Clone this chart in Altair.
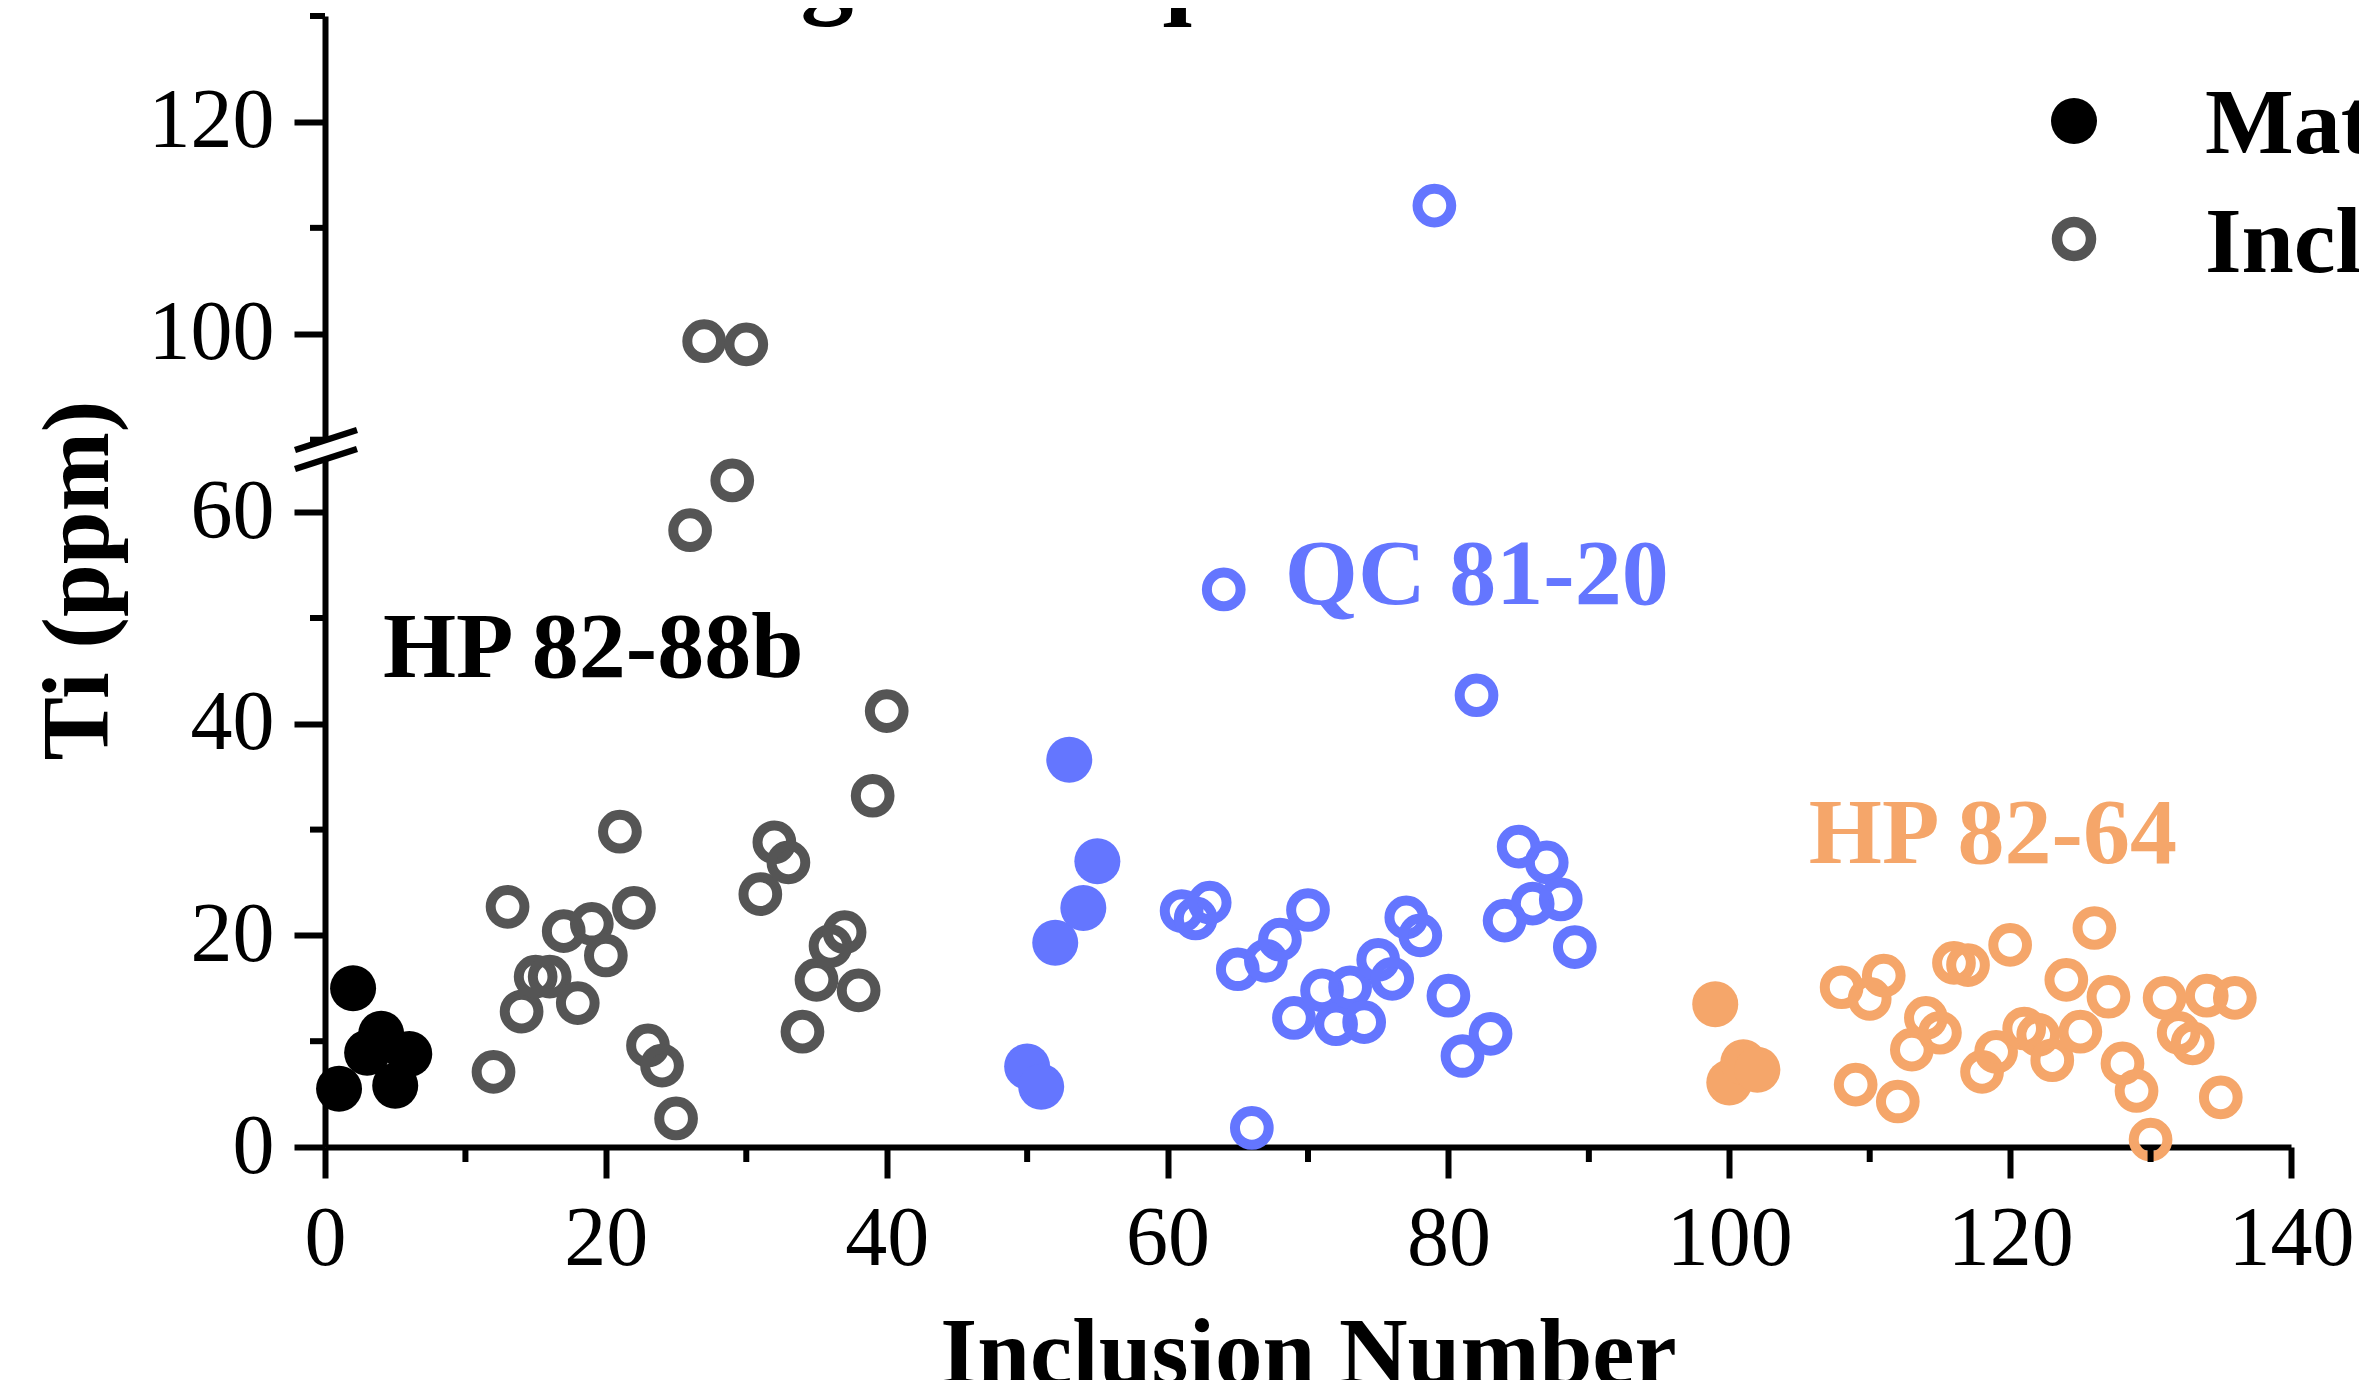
import altair as alt
import pandas as pd

# ---------------- data ----------------
hp88_matrix_n = [1, 2, 3, 4, 5, 6]
hp88_matrix_ti = [5.5, 15.0, 8.9, 10.7, 5.8, 8.8]
hp88_incl_n = [12, 13, 14, 15, 16, 17, 18, 19, 20, 21, 22, 23, 24, 25, 26, 27,
               29, 30, 31, 32, 33, 34, 35, 36, 37, 38, 39, 40]
hp88_incl_ti = [7.1, 22.7, 12.8, 16.1, 16.1, 20.4, 13.6, 21.1, 18.1, 29.8, 22.6, 9.6,
                7.7, 2.7, 58.3, 99.3, 63.0, 99.0, 23.9, 28.8, 26.9, 10.9, 15.8, 19.0,
                20.3, 14.8, 33.2, 41.2]

qc_matrix_n = [50, 51, 52, 53, 54, 55]
qc_matrix_ti = [7.6, 5.7, 19.3, 36.6, 22.6, 27.0]
qc_incl_n = list(range(61, 90))
qc_incl_ti = [22.3, 21.6, 23.1, 52.7, 16.8, 1.8, 17.6, 19.6, 12.2, 22.4, 14.8, 11.6,
              15.1, 11.8, 17.7, 15.9, 21.7, 20.0, 112.1, 14.3, 8.6, 42.7, 10.7, 21.4,
              28.4, 23.0, 26.9, 23.4, 18.9]

hp64_matrix_n = [99, 100, 101, 102]
hp64_matrix_ti = [13.5, 6.1, 8.0, 7.3]
hp64_incl_n = list(range(108, 137))
hp64_incl_ti = [15.1, 5.9, 14.0, 16.2, 4.3, 9.2, 12.2, 10.8, 17.4, 17.2, 7.1, 9.0,
                19.1, 11.2, 10.6, 8.2, 15.8, 10.9, 20.7, 14.2, 7.9, 5.3, 0.7, 14.1,
                10.8, 9.8, 14.3, 4.7, 14.1]

sample_names = ["HP 82-88b", "QC 81-20", "HP 82-64"]
sample_colors = ["#000000", "#6476FF", "#F5A66A"]
inclusion_colors = ["#555555", "#6476FF", "#F5A66A"]

x_major = [0, 20, 40, 60, 80, 100, 120, 140]
x_minor = [10, 30, 50, 70, 90, 110, 130]
y_low_major = [0, 20, 40, 60]
y_low_minor = [10, 30, 50]
y_up_major = [100, 120]
y_up_minor = [90, 110, 130]

ann_x = [4.13, 68.35, 105.66]
ann_y = [44.4, 51.3, 26.85]

# ---------------- table ----------------
rows = []
groups = [
    (sample_names[0], hp88_matrix_n, hp88_matrix_ti, hp88_incl_n, hp88_incl_ti),
    (sample_names[1], qc_matrix_n, qc_matrix_ti, qc_incl_n, qc_incl_ti),
    (sample_names[2], hp64_matrix_n, hp64_matrix_ti, hp64_incl_n, hp64_incl_ti),
]
for name, mn, mt, inn, it in groups:
    for n, t in zip(mn, mt):
        rows.append({"n": n, "ti": t, "sample": name, "kind": "matrix",
                     "series": name + " matrix"})
    for n, t in zip(inn, it):
        rows.append({"n": n, "ti": t, "sample": name, "kind": "inclusion",
                     "series": name + " inclusion"})
df = pd.DataFrame(rows)

series_dom, series_rng = [], []
for i, name in enumerate(sample_names):
    series_dom += [name + " matrix", name + " inclusion"]
    series_rng += [sample_colors[i], inclusion_colors[i]]

# ---------------- layout ----------------
FONT = "Liberation Serif"
W, H = 1966, 1131
LOW_TOP = 443.3
UP_BOTTOM = 423.7

xs = alt.Scale(domain=[0, 140], nice=False, zero=False)
ys_low = alt.Scale(domain=[0, 65], range=[H, LOW_TOP], nice=False, zero=False)
ys_up = alt.Scale(domain=[90, 130], range=[UP_BOTTOM, 0], nice=False, zero=False)
col = alt.Color("series:N", scale=alt.Scale(domain=series_dom, range=series_rng), legend=None)

axis_common = dict(domainColor="black", domainWidth=6, tickColor="black", tickWidth=6,
                   tickSize=31, labelFont=FONT, labelFontSize=84, labelColor="black",
                   labelPadding=20, labelFlush=False, labelOverlap=False, grid=False)

x_axis = alt.Axis(values=x_major, orient="bottom", title="Inclusion Number", titleFont=FONT,
                  titleFontSize=95, titleFontWeight="bold", titleColor="black",
                  titleBaseline="alphabetic", titleY=236, **axis_common)
y_low_axis = alt.Axis(values=y_low_major, orient="left", title="Ti (ppm)", titleFont=FONT,
                      titleFontSize=95, titleFontWeight="bold", titleColor="black",
                      titleAngle=270, titleAlign="center", titleBaseline="alphabetic",
                      titleX=-218, titleY=564, **axis_common)
y_up_axis = alt.Axis(values=y_up_major, orient="left", title="", **axis_common)

X = lambda f: alt.X(f, scale=xs, axis=x_axis)
YL = lambda f: alt.Y(f, scale=ys_low, axis=y_low_axis)
YU = lambda f: alt.Y(f, scale=ys_up, axis=y_up_axis)

base = alt.Chart(df)

low_matrix = base.transform_filter("datum.kind == 'matrix' && datum.ti <= 65").mark_point(
    filled=True, size=2116, opacity=1, strokeWidth=0).encode(
    x=X("n:Q"), y=YL("ti:Q"), color=col)

low_incl = base.transform_filter("datum.kind == 'inclusion' && datum.ti <= 65").mark_point(
    filled=False, size=1136, opacity=1, strokeWidth=10).encode(
    x=X("n:Q"), y=YL("ti:Q"), color=col)

x_minor_ticks = alt.Chart(pd.DataFrame({"n": x_minor})).mark_rule(
    color="black", strokeWidth=6).encode(
    x=X("n:Q"), y=alt.value(H), y2=alt.value(H + 15))

y_low_minor_ticks = alt.Chart(pd.DataFrame({"ti": y_low_minor})).mark_rule(
    color="black", strokeWidth=6).encode(
    y=YL("ti:Q"), x=alt.value(0), x2=alt.value(-15))

# broken-axis marks
one = pd.DataFrame({"a": [0]})
slash1 = alt.Chart(one).mark_rule(color="black", strokeWidth=6.5).encode(
    x=alt.value(-30), x2=alt.value(32), y=alt.value(434), y2=alt.value(414))
slash2 = alt.Chart(one).mark_rule(color="black", strokeWidth=6.5).encode(
    x=alt.value(-30), x2=alt.value(32), y=alt.value(453), y2=alt.value(433))

ann_layers = []
for i, name in enumerate(sample_names):
    ann_layers.append(
        alt.Chart(pd.DataFrame({"n": [ann_x[i]], "ti": [ann_y[i]], "label": [name]}))
        .mark_text(font=FONT, fontSize=94, fontWeight="bold", align="left",
                   baseline="alphabetic", color=sample_colors[i])
        .encode(x=X("n:Q"), y=YL("ti:Q"), text="label:N"))

title = alt.Chart(one).mark_text(
    text="Magmatic quartz Ti content", font=FONT, fontSize=106, fontWeight="bold",
    align="center", baseline="alphabetic", color="black").encode(
    x=alt.value(958), y=alt.value(-12))

leg_fill = alt.Chart(one).mark_point(filled=True, size=2116, opacity=1, strokeWidth=0,
                                      color="#000000").encode(
    x=alt.value(1749), y=alt.value(105))
leg_open = alt.Chart(one).mark_point(filled=False, size=1156, opacity=1, strokeWidth=10.5,
                                      color="#555555").encode(
    x=alt.value(1749), y=alt.value(223))
leg_t1 = alt.Chart(one).mark_text(text="Matrix", font=FONT, fontSize=94, fontWeight="bold",
                                   align="left", baseline="alphabetic", color="black").encode(
    x=alt.value(1880), y=alt.value(137))
leg_t2 = alt.Chart(one).mark_text(text="Inclusion", font=FONT, fontSize=94, fontWeight="bold",
                                   align="left", baseline="alphabetic", color="black").encode(
    x=alt.value(1880), y=alt.value(256))

lower_group = alt.layer(low_matrix, low_incl, x_minor_ticks, y_low_minor_ticks,
                        slash1, slash2, *ann_layers, title,
                        leg_fill, leg_open, leg_t1, leg_t2)

up_incl = base.transform_filter("datum.ti > 65").mark_point(
    filled=False, size=1136, opacity=1, strokeWidth=10).encode(
    x=X("n:Q"), y=YU("ti:Q"), color=col)
y_up_minor_ticks = alt.Chart(pd.DataFrame({"ti": y_up_minor})).mark_rule(
    color="black", strokeWidth=6).encode(
    y=YU("ti:Q"), x=alt.value(0), x2=alt.value(-15))

upper_group = alt.layer(up_incl, y_up_minor_ticks)

chart = alt.layer(lower_group, upper_group).resolve_scale(y="independent").properties(
    width=W, height=H,
    autosize=alt.AutoSizeParams(type="none"),
    padding={"left": 317, "top": 8, "right": 68, "bottom": 233},
    background="white",
).configure_view(stroke=None)

chart.save("out.html", embed_options={"renderer": "svg", "actions": False})
